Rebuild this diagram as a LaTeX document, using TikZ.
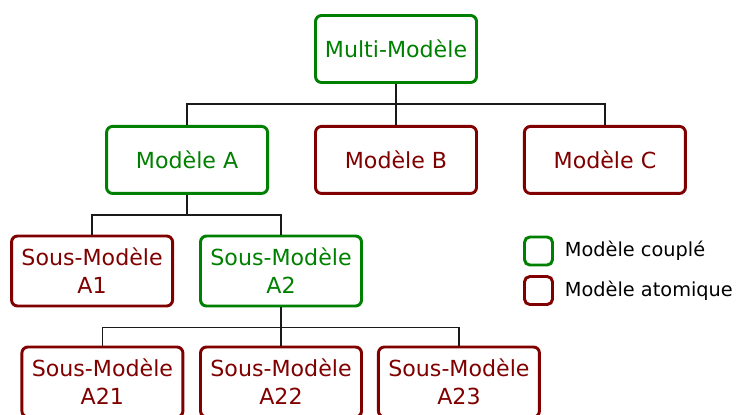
\documentclass[tikz,border=0pt]{standalone}
\usepackage{fontspec}
\setmainfont{DejaVu Sans}
\usetikzlibrary{positioning,calc}
\definecolor{coupled}{HTML}{008000}
\definecolor{atomic}{HTML}{800000}
\definecolor{ink}{HTML}{1a1a1a}

\begin{document}
\begin{tikzpicture}[x=0.75pt,y=-0.75pt,
  model/.style={draw,line width=2.2pt,rounded corners=4.5pt,fill=white,minimum width=120.75pt,minimum height=50.25pt,align=center,inner sep=2pt,font=\fontsize{16.6}{21}\selectfont},
  cpl/.style={model,draw=coupled,text=coupled},
  atm/.style={model,draw=atomic,text=atomic},
  link/.style={draw=ink,line width=1.1pt},
  key/.style={draw,line width=2.2pt,rounded corners=4pt,minimum width=21pt,minimum height=21pt,inner sep=0pt},
  keytext/.style={inner sep=1pt,font=\fontsize{14.5}{17}\selectfont}]
  \clip (0,0) rectangle (737,414);
  % tree
  \node[cpl] (mm) at (396,49) {Multi-Modèle};
  \node[atm,below=30.75pt of mm] (mb) {Modèle B};
  \node[cpl,left=33.75pt of mb] (ma) {Modèle A};
  \node[atm,right=33.75pt of mb] (mc) {Modèle C};
  \node[cpl,minimum height=52.5pt] (a2) at (281,271) {Sous-Modèle\\A2};
  \node[atm,minimum height=52.5pt,left=18.75pt of a2] (a1) {Sous-Modèle\\A1};
  \node[atm,minimum height=52.5pt] (a22) at (281,382) {Sous-Modèle\\A22};
  \node[atm,minimum height=52.5pt,left=11pt of a22] (a21) {Sous-Modèle\\A21};
  \node[atm,minimum height=52.5pt,right=10.5pt of a22] (a23) {Sous-Modèle\\A23};
  \foreach \c in {ma,mb,mc} \draw[link] (mm.south) -- ++(0,20) -| (\c.north);
  \foreach \c in {a1,a2} \draw[link] (ma.south) -- ++(0,20) -| (\c.north);
  \foreach \c in {a21,a22,a23} \draw[link] (a2.south) -- ++(0,20) -| (\c.north);
  % legend
  \node[key,draw=coupled] (kc) at (538.5,251) {};
  \node[key,draw=atomic] (ka) at (538.5,290.5) {};
  \node[keytext,right=7pt of kc] (tc) {Modèle couplé};
  \node[keytext,right=7pt of ka] (ta) {Modèle atomique};
\end{tikzpicture}
\end{document}
